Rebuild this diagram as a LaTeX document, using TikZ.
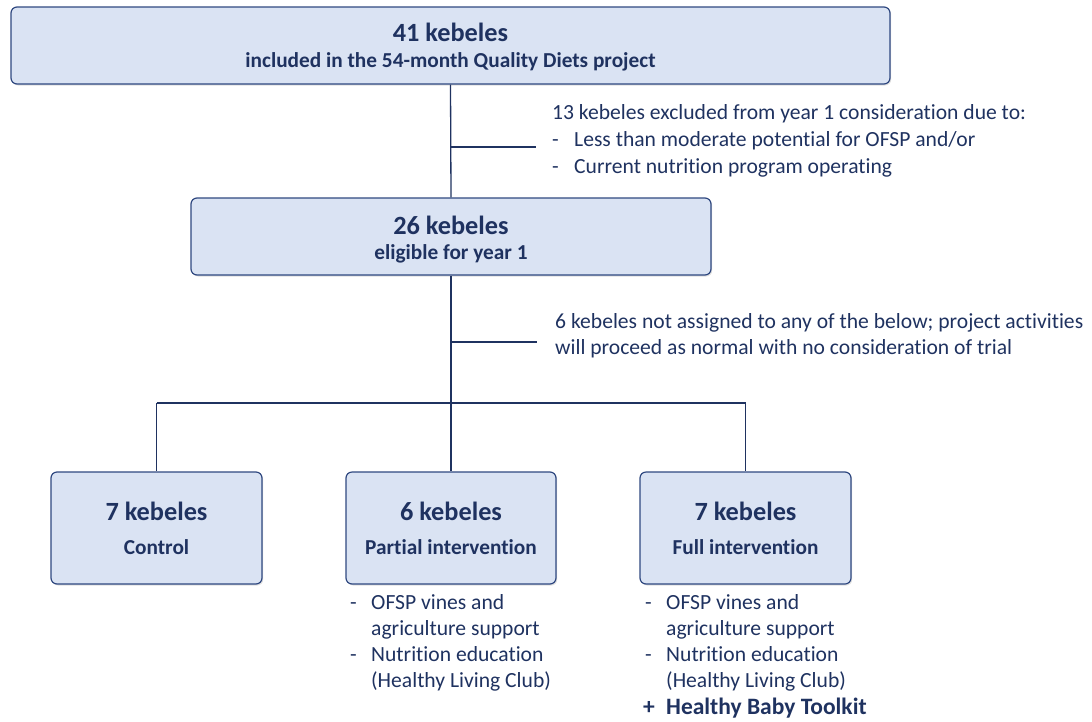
\documentclass[tikz,border=0pt]{standalone}
\usepackage{fontspec}
\setmainfont[Ligatures={NoCommon}]{Carlito}
\usetikzlibrary{shadows}
\definecolor{boxfill}{RGB}{218,227,243}
\definecolor{boxline}{RGB}{47,72,128}
\definecolor{navy}{RGB}{31,50,96}
\begin{document}
\begin{tikzpicture}[x=1pt,y=-1pt,
  kbox/.style={draw=boxline,line width=1.2pt,fill=boxfill,rounded corners=6pt,
    drop shadow={opacity=0.25,shadow xshift=1.2pt,shadow yshift=-1.5pt},inner sep=0pt},
  conn/.style={draw=navy,line width=1.3pt},
  big/.style={font=\bfseries\fontsize{26.3}{31}\selectfont,text=navy,anchor=base,inner sep=0pt},
  sub/.style={font=\bfseries\fontsize{21.3}{25}\selectfont,text=navy,anchor=base,inner sep=0pt},
  note/.style={font=\fontsize{21.6}{26}\selectfont,text=navy,anchor=base west,inner sep=0pt},
  lst/.style={font=\fontsize{21.6}{26}\selectfont,text=navy,anchor=base west,inner sep=0pt}]
\useasboundingbox (0,0) rectangle (1092,721);
% boxes
\node[kbox,minimum width=879pt,minimum height=77pt] (top) at (450.5,45.5) {};
\node[kbox,minimum width=520pt,minimum height=77pt] (mid) at (451,236.5) {};
\node[kbox,minimum width=211pt,minimum height=112pt] (ctl) at (156.5,528) {};
\node[kbox,minimum width=210pt,minimum height=112pt] (par) at (451,528) {};
\node[kbox,minimum width=211pt,minimum height=112pt] (ful) at (745.5,528) {};
% box texts
\node[big] (t1) at (450.5,41) {41 kebeles};
\node[sub] (t2) at (450.5,67.5) {included in the 54-month Quality Diets project};
\node[big] (m1) at (451,234) {26 kebeles};
\node[sub] (m2) at (451,259.5) {eligible for year 1};
\node[big] (c1) at (156.5,520) {7 kebeles};
\node[sub] (c2) at (156.5,554.5) {Control};
\node[big] (p1) at (451,520) {6 kebeles};
\node[sub] (p2) at (451,554.5) {Partial intervention};
\node[big] (f1) at (745.5,520) {7 kebeles};
\node[sub] (f2) at (745.5,554.5) {Full intervention};
% connectors
\coordinate (b1) at (451,147);
\coordinate (b1e) at (536,147);
\coordinate (b2) at (451,342);
\coordinate (b2e) at (537,342);
\coordinate (hl) at (156.5,403);
\coordinate (hr) at (745.5,403);
\draw[conn] (top.south) -- (mid.north);
\draw[conn] (b1) -- (b1e);
\draw[conn] (mid.south) -- (par.north);
\draw[conn] (b2) -- (b2e);
\draw[conn] (hl) -- (hr);
\draw[conn] (hl) -- (ctl.north);
\draw[conn] (hr) -- (ful.north);
% notes
\node[note] (n1) at (552,119) {13 kebeles excluded from year 1 consideration due to:};
\node[note] (n2) at (552,146) {-};
\node[note] (n3) at (574,146) {Less than moderate potential for OFSP and/or};
\node[note] (n4) at (552,173) {-};
\node[note] (n5) at (574,173) {Current nutrition program operating};
\node[note] (n6) at (555,328) {6 kebeles not assigned to any of the below; project activities};
\node[note] (n7) at (555,354) {will proceed as normal with no consideration of trial};
% lists
\node[lst] (pa) at (350,609) {-};
\node[lst] (pb) at (371,609) {OFSP vines and};
\node[lst] (pc) at (371,635) {agriculture support};
\node[lst] (pd) at (350,661) {-};
\node[lst] (pe) at (371,661) {Nutrition education};
\node[lst] (pf) at (371,687) {(Healthy Living Club)};
\node[lst] (fa) at (645,609) {-};
\node[lst] (fb) at (666,609) {OFSP vines and};
\node[lst] (fc) at (666,635) {agriculture support};
\node[lst] (fd) at (645,661) {-};
\node[lst] (fe) at (666,661) {Nutrition education};
\node[lst] (ff) at (666,687) {(Healthy Living Club)};
\node[lst,font=\bfseries\fontsize{23.5}{28}\selectfont] (fg) at (643,714) {+};
\node[lst,font=\bfseries\fontsize{23.5}{28}\selectfont] (fh) at (666,714) {Healthy Baby Toolkit};
\end{tikzpicture}
\end{document}
